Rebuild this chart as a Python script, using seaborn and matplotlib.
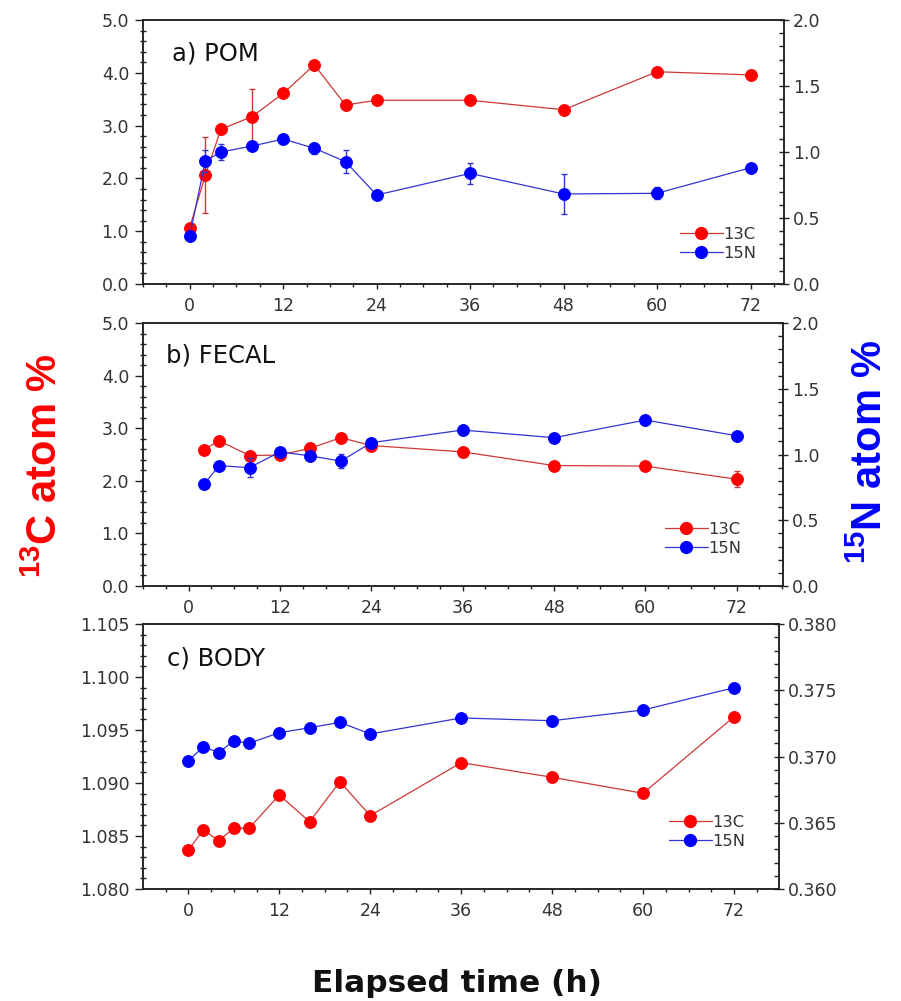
import numpy as np
import pandas as pd
import matplotlib
matplotlib.use("Agg")
import matplotlib.pyplot as plt
import seaborn as sns
from matplotlib.ticker import MultipleLocator, FormatStrFormatter
from matplotlib.lines import Line2D

# ---------------- data ----------------
pom_time = [0, 2, 4, 8, 12, 16, 20, 24, 36, 48, 60, 72]
pom_c13 = [1.07, 2.06, 2.93, 3.17, 3.61, 4.15, 3.39, 3.48, 3.48, 3.30, 4.02, 3.96]
pom_c13_err = [0, 0.72, 0, 0.52, 0, 0, 0, 0, 0, 0, 0, 0]
pom_n15 = [0.366, 0.932, 1.00, 1.045, 1.098, 1.028, 0.927, 0.674, 0.838, 0.682, 0.687, 0.881]
pom_n15_err = [0, 0.083, 0.06, 0.03, 0, 0.04, 0.088, 0, 0.08, 0.15, 0.045, 0]

fecal_time = [2, 4, 8, 12, 16, 20, 24, 36, 48, 60, 72]
fecal_c13 = [2.59, 2.76, 2.48, 2.49, 2.62, 2.82, 2.67, 2.55, 2.29, 2.28, 2.03]
fecal_c13_err = [0, 0.06, 0, 0, 0, 0, 0, 0, 0, 0, 0.15]
fecal_n15 = [0.773, 0.915, 0.90, 1.02, 0.989, 0.95, 1.09, 1.186, 1.128, 1.262, 1.143]
fecal_n15_err = [0, 0, 0.07, 0, 0, 0.053, 0, 0, 0, 0, 0.03]

body_time = [0, 2, 4, 6, 8, 12, 16, 20, 24, 36, 48, 60, 72]
body_c13 = [1.08368, 1.08557, 1.08456, 1.08572, 1.08572, 1.08887, 1.08635,
            1.09012, 1.08692, 1.09192, 1.09054, 1.08903, 1.09625]
body_n15 = [0.36968, 0.37074, 0.37029, 0.37119, 0.37099, 0.37180, 0.37217,
            0.37258, 0.37170, 0.37291, 0.37270, 0.37351, 0.37519]

series_labels = ["13C", "15N"]
panel_titles = ["a) POM", "b) FECAL", "c) BODY"]
x_ticks = [0, 12, 24, 36, 48, 60, 72]

# ---------------- style ----------------
sns.set_style("ticks")
plt.rcParams["font.family"] = ["DejaVu Sans"]
plt.rcParams["mathtext.fontset"] = "custom"
plt.rcParams["mathtext.rm"] = "Liberation Sans"
plt.rcParams["mathtext.bf"] = "Liberation Sans:bold"

RED = "#ff0000"
RED_LINE = "#cc3838"
BLUE = "#0000ff"
BLUE_LINE = "#3434d0"
TXT = "#333333"
TICKFS = 12.5

W, H = 901, 1001
fig = plt.figure(figsize=(W / 100, H / 100), dpi=100)


def fx(px):
    return px / W


def fy(py):
    return 1 - py / H


def panel(box, xlim, t, c, cerr, n, nerr, clim, nlim, cmaj, cmin, nmaj, nmin,
          cfmt, nfmt, title, title_xy, leg_xy):
    l, tp, r, b = box
    ax = fig.add_axes([fx(l), fy(b), fx(r) - fx(l), fy(tp) - fy(b)])
    ax2 = ax.twinx()

    if cerr is not None:
        ax.errorbar(t, c, yerr=cerr, fmt="none", ecolor=RED_LINE, elinewidth=1.0,
                    capsize=2.5, capthick=1.0, zorder=1.5)
    sns.lineplot(x=t, y=c, ax=ax, color=RED_LINE, linewidth=0.9, marker="o",
                 markersize=8.5, markerfacecolor=RED, markeredgecolor=RED,
                 zorder=2, legend=False)
    if nerr is not None:
        ax2.errorbar(t, n, yerr=nerr, fmt="none", ecolor=BLUE_LINE, elinewidth=1.0,
                     capsize=2.5, capthick=1.0, zorder=1.5)
    sns.lineplot(x=t, y=n, ax=ax2, color=BLUE_LINE, linewidth=0.9, marker="o",
                 markersize=8.5, markerfacecolor=BLUE, markeredgecolor=BLUE,
                 zorder=2, legend=False)

    ax.set_xlim(*xlim)
    ax.set_ylim(*clim)
    ax2.set_ylim(*nlim)
    ax.set_xlabel("")
    ax.set_ylabel("")
    ax2.set_ylabel("")

    ax.set_xticks(x_ticks)
    ax.xaxis.set_minor_locator(MultipleLocator(3))
    ax.yaxis.set_major_locator(MultipleLocator(cmaj))
    ax.yaxis.set_minor_locator(MultipleLocator(cmin))
    ax2.yaxis.set_major_locator(MultipleLocator(nmaj))
    ax2.yaxis.set_minor_locator(MultipleLocator(nmin))
    ax.yaxis.set_major_formatter(FormatStrFormatter(cfmt))
    ax2.yaxis.set_major_formatter(FormatStrFormatter(nfmt))

    for a in (ax, ax2):
        for s in a.spines.values():
            s.set_visible(True)
            s.set_color("#222222")
            s.set_linewidth(1.1)

    ax.tick_params(axis="x", which="major", direction="out", length=3.5, width=1,
                   pad=6, labelsize=TICKFS, labelcolor=TXT, color="#222222")
    ax.tick_params(axis="x", which="minor", direction="out", length=2.5, width=1,
                   color="#222222")
    ax.tick_params(axis="y", which="major", direction="out", length=6, width=1,
                   pad=4, labelsize=TICKFS, labelcolor=TXT, color="#222222")
    ax.tick_params(axis="y", which="minor", direction="inout", length=4, width=1,
                   color="#222222")
    ax2.tick_params(axis="y", which="major", direction="inout", length=7, width=1,
                    pad=3, labelsize=TICKFS, labelcolor=TXT, color="#222222")
    ax2.tick_params(axis="y", which="minor", direction="in", length=3.5, width=1,
                    color="#222222")

    ax.text(title_xy[0], title_xy[1], title, transform=ax.transAxes,
            fontsize=17.5, color="#111111", ha="left", va="center")

    handles = [
        Line2D([], [], color=RED_LINE, lw=0.9, marker="o", markersize=8.5,
               markerfacecolor=RED, markeredgecolor=RED),
        Line2D([], [], color=BLUE_LINE, lw=0.9, marker="o", markersize=8.5,
               markerfacecolor=BLUE, markeredgecolor=BLUE),
    ]
    ax2.legend(handles, series_labels, loc="center left",
               bbox_to_anchor=(fx(leg_xy[0]), fy(leg_xy[1])),
               bbox_transform=fig.transFigure, frameon=False, fontsize=11.8,
               handlelength=2.6, handletextpad=0.05, labelspacing=0.25,
               borderpad=0, borderaxespad=0, labelcolor=TXT)
    return ax, ax2


panel((143, 20, 784, 284), (-6, 76.3), pom_time, pom_c13, pom_c13_err,
      pom_n15, pom_n15_err, (0, 5), (0, 2), 1.0, 0.2, 0.5, 0.1, "%.1f", "%.1f",
      panel_titles[0], (0.046, 0.875), (680, 244))

panel((143, 323, 783, 586), (-6, 78.1), fecal_time, fecal_c13, fecal_c13_err,
      fecal_n15, fecal_n15_err, (0, 5), (0, 2), 1.0, 0.2, 0.5, 0.1, "%.1f", "%.1f",
      panel_titles[1], (0.036, 0.878), (665, 539))

panel((143.3, 624, 779.3, 889), (-5.94, 77.97), body_time, body_c13, None,
      body_n15, None, (1.080, 1.105), (0.360, 0.380), 0.005, 0.001, 0.005, 0.001,
      "%.3f", "%.3f", panel_titles[2], (0.037, 0.87), (669, 832))

fig.text(fx(46), fy(466), r"$\mathbf{^{13}}$C atom %", rotation=90, color=RED,
         fontsize=30, fontweight="bold", family="Liberation Sans",
         ha="center", va="center")
fig.text(fx(871), fy(452), r"$\mathbf{^{15}}$N atom %", rotation=90, color=BLUE,
         fontsize=30, fontweight="bold", family="Liberation Sans",
         ha="center", va="center")
fig.text(fx(457), fy(983), "Elapsed time (h)", color="#111111",
         fontsize=22.5, fontweight="bold", ha="center", va="center")

fig.savefig("out.png", dpi=100)
